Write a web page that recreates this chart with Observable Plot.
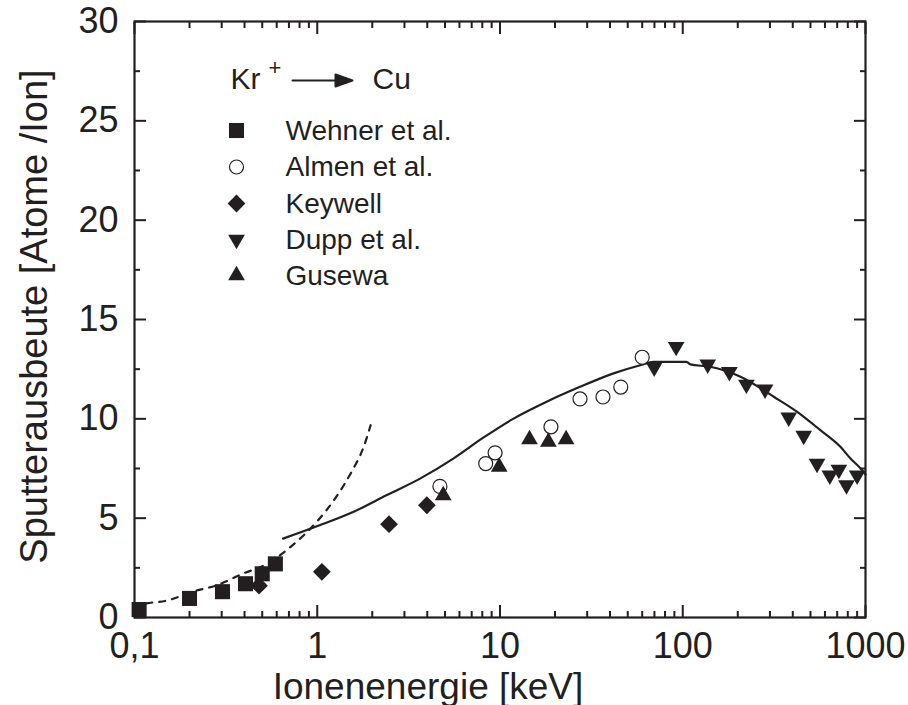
<!DOCTYPE html>
<html><head><meta charset="utf-8">
<script src="https://cdn.jsdelivr.net/npm/d3@7"></script>
<script src="https://cdn.jsdelivr.net/npm/@observablehq/plot@0.6"></script>
<style>body{margin:0;background:#fff}</style>
</head><body><div id="chart"></div>
<script>
// ---- data ----
const wehnerE = [0.106, 0.2, 0.303, 0.405, 0.5, 0.59];
const wehnerY = [0.4, 0.96, 1.3, 1.7, 2.2, 2.7];

const almenE = [4.69, 8.35, 9.4, 19, 27.4, 36.6, 45.8, 60];
const almenY = [6.6, 7.75, 8.29, 9.6, 11.0, 11.1, 11.6, 13.1];

const keywellE = [0.48, 1.06, 2.47, 3.98];
const keywellY = [1.6, 2.3, 4.7, 5.65];

const duppE = [69.8, 92, 137, 180, 223, 282, 380, 459, 543, 638, 715, 787, 900];
const duppY = [12.59, 13.63, 12.74, 12.37, 11.73, 11.48, 10.07, 9.16, 7.75, 7.16, 7.45, 6.66, 7.16];

const gusewaE = [4.89, 9.9, 14.5, 18.4, 23];
const gusewaY = [6.15, 7.58, 8.96, 8.84, 8.96];

const theoryE = [0.65, 1.03, 1.57, 2.39, 3.65, 5.55, 8.1, 11.8, 18, 27.4, 41.8, 58.5, 69.2, 105, 110, 141, 207, 315, 423, 566, 729, 828, 940, 1000];
const theoryY = [3.97, 4.64, 5.31, 6.15, 6.99, 8.0, 9.05, 10.0, 10.86, 11.61, 12.29, 12.7, 12.87, 12.87, 12.74, 12.62, 12.12, 11.11, 10.35, 9.43, 8.59, 8.0, 7.5, 7.2];

const lowE = [0.1, 0.111, 0.152, 0.213, 0.28, 0.39, 0.53, 0.75, 0.99, 1.27, 1.54, 1.78, 1.96];
const lowY = [0.45, 0.66, 0.86, 1.33, 1.61, 2.2, 2.7, 3.72, 4.8, 6.07, 7.33, 8.5, 9.68];

const xMajorTicks = [0.1, 1, 10, 100, 1000];
const xMajorLabels = ["0,1", "1", "10", "100", "1000"];
const xMinorTicks = [0.2,0.3,0.4,0.5,0.6,0.7,0.8,0.9, 2,3,4,5,6,7,8,9, 20,30,40,50,60,70,80,90, 200,300,400,500,600,700,800,900];
const yMajorTicks = [0, 5, 10, 15, 20, 25, 30];
const yMinorTicks = [2.5, 7.5, 12.5, 17.5, 22.5, 27.5];

const legendNames = ["Wehner et al.", "Almen et al.", "Keywell", "Dupp et al.", "Gusewa"];
const xTitle = "Ionenenergie [keV]";
const yTitle = "Sputterausbeute [Atome /Ion]";

// ---- build ----
const ink = "#231f20";
const rows = (xs, ys) => xs.map((x, i) => ({x, y: ys[i]}));
const labelOf = new Map(xMajorTicks.map((t, i) => [t, xMajorLabels[i]]));

const styles = [
  {symbol: "square", r: 8.5, fill: ink, stroke: "none"},
  {symbol: "circle", r: 7, fill: "white", stroke: ink, strokeWidth: 1.2},
  {symbol: "diamond2", r: 8, fill: ink, stroke: "none"},
  {symbol: "triangle", r: 6.2, fill: ink, stroke: "none", rotate: 180},
  {symbol: "triangle", r: 6.2, fill: ink, stroke: "none"}
];
const datasets = [
  rows(wehnerE, wehnerY), rows(almenE, almenY), rows(keywellE, keywellY),
  rows(duppE, duppY), rows(gusewaE, gusewaY)
];

const noLabel = () => "";
const arrowShape = {
  draw(ctx, l) {
    ctx.moveTo(0, 0); ctx.lineTo(0, -l + 14);
    ctx.moveTo(-6, -l + 17); ctx.lineTo(0, -l); ctx.lineTo(6, -l + 17); ctx.closePath();
  }
};

const rowDy = [109, 145.5, 182, 218, 254];

const marks = [
  Plot.line(rows(theoryE, theoryY), {x: "x", y: "y", stroke: ink, strokeWidth: 2.2, curve: "monotone-x"}),
  Plot.line(rows(lowE, lowY), {x: "x", y: "y", stroke: ink, strokeWidth: 2.2, strokeDasharray: "6,7", curve: "monotone-x"}),
  // data points: circles first so filled symbols sit on top
  Plot.dot(datasets[1], {x: "x", y: "y", ...styles[1]}),
  ...[0, 2, 3, 4].map(k => Plot.dot(datasets[k], {x: "x", y: "y", ...styles[k]})),
  // frame and inward ticks
  Plot.frame({stroke: ink, strokeWidth: 2.2}),
  Plot.axisX(xMajorTicks, {anchor: "bottom", tickSize: -12, tickFormat: noLabel, label: null, strokeWidth: 2, stroke: ink}),
  Plot.axisX(xMinorTicks, {anchor: "bottom", tickSize: -6, tickFormat: noLabel, label: null, strokeWidth: 2, stroke: ink}),
  Plot.axisX(xMajorTicks, {anchor: "top", tickSize: -12, tickFormat: noLabel, label: null, strokeWidth: 2, stroke: ink}),
  Plot.axisX(xMinorTicks, {anchor: "top", tickSize: -6, tickFormat: noLabel, label: null, strokeWidth: 2, stroke: ink}),
  Plot.axisY(yMajorTicks, {anchor: "left", tickSize: -12, tickFormat: noLabel, label: null, strokeWidth: 2, stroke: ink}),
  Plot.axisY(yMinorTicks, {anchor: "left", tickSize: -6, tickFormat: noLabel, label: null, strokeWidth: 2, stroke: ink}),
  Plot.axisY(yMajorTicks, {anchor: "right", tickSize: -12, tickFormat: noLabel, label: null, strokeWidth: 2, stroke: ink}),
  Plot.axisY(yMinorTicks, {anchor: "right", tickSize: -6, tickFormat: noLabel, label: null, strokeWidth: 2, stroke: ink}),
  // tick labels
  Plot.axisX(xMajorTicks, {anchor: "bottom", tickSize: 0, tickPadding: 15, tickFormat: d => labelOf.get(d), fontSize: 36, label: null, fill: ink}),
  Plot.axisY(yMajorTicks, {anchor: "left", tickSize: 0, tickPadding: 16, fontSize: 36, label: null, fill: ink}),
  // axis titles
  Plot.text([xTitle], {text: d => d, frameAnchor: "bottom", dx: -72, dy: 81, lineAnchor: "bottom", textAnchor: "middle", fontSize: 37, fill: ink}),
  Plot.text([yTitle], {text: d => d, frameAnchor: "left", dx: -88, dy: -3, rotate: -90, lineAnchor: "bottom", textAnchor: "middle", fontSize: 38, fill: ink}),
  // legend header
  Plot.text(["Kr"], {text: d => d, frameAnchor: "top-left", dx: 96, dy: 67, lineAnchor: "bottom", textAnchor: "start", fontSize: 30, fill: ink}),
  Plot.text(["+"], {text: d => d, frameAnchor: "top-left", dx: 134, dy: 53, lineAnchor: "bottom", textAnchor: "start", fontSize: 22, fill: ink}),
  Plot.vector([0], {frameAnchor: "top-left", dx: 158, dy: 59, length: 60, rotate: 90, anchor: "start", shape: arrowShape, stroke: ink, fill: ink, strokeWidth: 2}),
  Plot.text(["Cu"], {text: d => d, frameAnchor: "top-left", dx: 238, dy: 67, lineAnchor: "bottom", textAnchor: "start", fontSize: 30, fill: ink}),
  // legend rows
  ...legendNames.flatMap((name, k) => [
    Plot.dot([name], {frameAnchor: "top-left", dx: 102, dy: rowDy[k], ...styles[k]}),
    Plot.text([name], {text: d => d, frameAnchor: "top-left", dx: 151, dy: rowDy[k] + 9, lineAnchor: "bottom", textAnchor: "start", fontSize: 28, fill: ink})
  ])
];

const chart = Plot.plot({
  width: 908, height: 705,
  marginLeft: 134, marginRight: 43, marginTop: 21, marginBottom: 88,
  x: {type: "log", domain: [0.1, 1000]},
  y: {domain: [0, 30]},
  style: {fontFamily: "'Liberation Sans', Arial, Helvetica, sans-serif", color: ink, background: "white", overflow: "visible"},
  marks
});
document.getElementById("chart").append(chart);
</script>
</body></html>
